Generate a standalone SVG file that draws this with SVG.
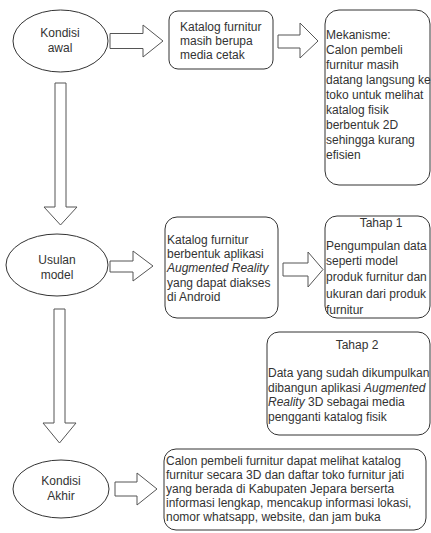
<svg xmlns="http://www.w3.org/2000/svg" width="431" height="533" viewBox="0 0 431 533">
<style>
.sh{fill:#fff;stroke:#333;stroke-width:1}
.ar{fill:#fff;stroke:#555;stroke-width:1;stroke-linejoin:miter}
text{font-family:"Liberation Sans",Arial,sans-serif;font-size:12px;fill:#333}
.c{text-anchor:middle}
.i{font-style:italic}
</style>
<rect width="431" height="533" fill="#fff"/>
<g id="connectors">
<polygon class="ar" points="110,33.5 143,33.5 143,25 163,41 143,57 143,48.5 110,48.5"/>
<polygon class="ar" points="278,35 300,35 300,23 318,41 300,58 300,48 278,48"/>
<polygon class="ar" points="110,261 133,261 133,251 153,266 133,281 133,272 110,272"/>
<polygon class="ar" points="283,263 308,263 308,252 323,269.5 308,287 308,276 283,276"/>
<polygon class="ar" points="115,482 137,482 137,473 157,489 137,505 137,496 115,496"/>
<polygon class="ar" points="55,83 66,83 66,207 77,207 60.5,225 44,207 55,207"/>
<polygon class="ar" points="54,309 65,309 65,423 76,423 59.5,443 43,423 54,423"/>
</g>
<g id="kondisi-awal">
<ellipse class="sh" cx="60.5" cy="41" rx="47.5" ry="31"/>
<text class="c" x="60" y="37">Kondisi</text>
<text class="c" x="60" y="52">awal</text>
</g>
<g id="katalog-cetak">
<rect class="sh" x="169" y="11" width="104" height="58" rx="9"/>
<text x="180" y="31">Katalog furnitur</text>
<text x="180" y="45">masih berupa</text>
<text x="180" y="59">media cetak</text>
</g>
<g id="mekanisme">
<rect class="sh" x="325" y="10" width="105" height="175" rx="14"/>
<text x="326" y="39">Mekanisme:</text>
<text x="326" y="54">Calon pembeli</text>
<text x="326" y="69">furnitur masih</text>
<text x="326" y="84">datang langsung ke</text>
<text x="326" y="99">toko untuk melihat</text>
<text x="326" y="114">katalog fisik</text>
<text x="326" y="129">berbentuk 2D</text>
<text x="326" y="144">sehingga kurang</text>
<text x="326" y="159">efisien</text>
</g>
<g id="usulan-model">
<ellipse class="sh" cx="57" cy="265" rx="51" ry="31"/>
<text class="c" x="57" y="264">Usulan</text>
<text class="c" x="57" y="279">model</text>
</g>
<g id="katalog-ar">
<rect class="sh" x="165" y="217" width="113" height="101" rx="12"/>
<text x="167" y="244">Katalog furnitur</text>
<text x="167" y="258">berbentuk aplikasi</text>
<text x="167" y="272" class="i">Augmented Reality</text>
<text x="167" y="287">yang dapat diakses</text>
<text x="167" y="301">di Android</text>
</g>
<g id="tahap-1">
<rect class="sh" x="325" y="216" width="105" height="102" rx="12"/>
<text class="c" x="381" y="227">Tahap 1</text>
<text x="326" y="250">Pengumpulan data</text>
<text x="326" y="265">seperti model</text>
<text x="326" y="281">produk furnitur dan</text>
<text x="326" y="298">ukuran dari produk</text>
<text x="326" y="314">furnitur</text>
</g>
<g id="tahap-2">
<rect class="sh" x="267" y="332" width="163" height="103" rx="12"/>
<text class="c" x="357" y="349">Tahap 2</text>
<text x="268" y="377">Data yang sudah dikumpulkan</text>
<text x="268" y="392">dibangun aplikasi <tspan class="i">Augmented</tspan></text>
<text x="268" y="406"><tspan class="i">Reality</tspan> 3D sebagai media</text>
<text x="268" y="421">pengganti katalog fisik</text>
</g>
<g id="kondisi-akhir">
<ellipse class="sh" cx="61" cy="489" rx="48" ry="29"/>
<text class="c" x="61" y="485">Kondisi</text>
<text class="c" x="61" y="500">Akhir</text>
</g>
<g id="hasil-akhir">
<rect class="sh" x="164" y="449" width="262" height="81" rx="12"/>
<text x="166" y="465">Calon pembeli furnitur dapat melihat katalog</text>
<text x="166" y="479">furnitur secara 3D dan daftar toko furnitur jati</text>
<text x="166" y="493">yang berada di Kabupaten Jepara berserta</text>
<text x="166" y="507">informasi lengkap, mencakup informasi lokasi,</text>
<text x="166" y="521">nomor whatsapp, website, dan jam buka</text>
</g>
</svg>
